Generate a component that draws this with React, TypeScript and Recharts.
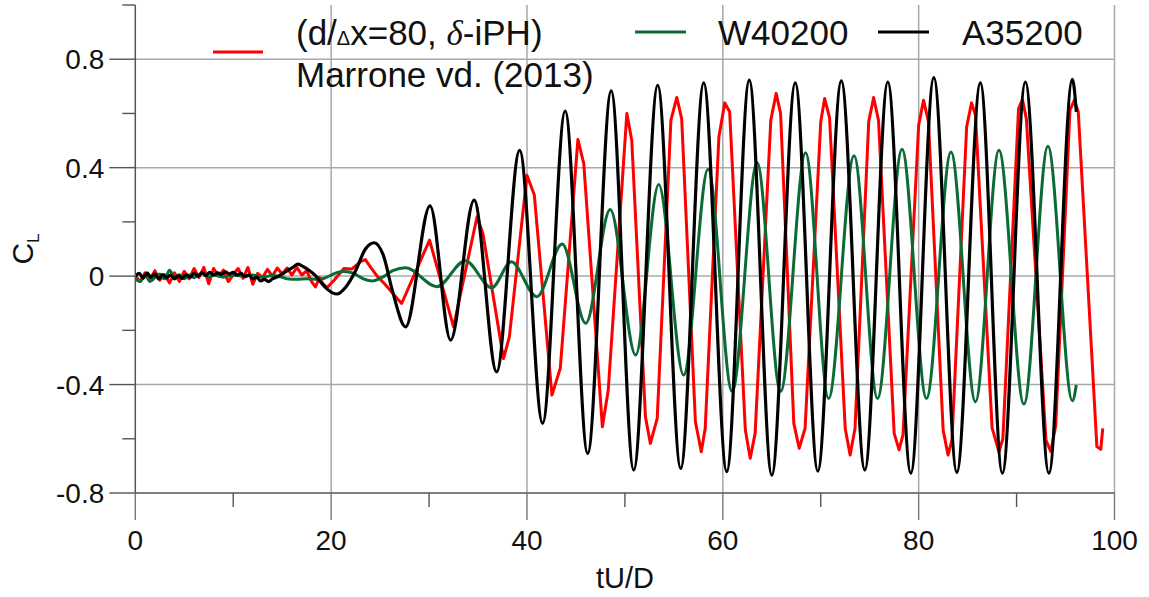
import React from 'react';
import { LineChart, Line, XAxis, YAxis, CartesianGrid } from 'recharts';

// ---------- data ----------
type P = { x: number; y: number };
const mk = (a: number[][]): P[] => a.map(([x, y]) => ({ x, y }));

const RED_POINTS: number[][] = [
  [0, 0], [0.5, -0.02], [1, 0.012], [1.5, -0.012], [2, 0.02], [2.5, -0.015], [3, 0.005], [3.5, -0.025],
  [4, 0.012], [4.5, -0.02], [5, 0.018], [5.5, -0.01], [6, 0.028], [6.5, -0.005], [7, 0.032], [7.5, -0.028],
  [8, 0.028], [8.5, 0], [9, 0.022], [9.5, -0.02], [10, 0.005], [10.5, 0.028], [11, -0.008], [11.5, 0.032],
  [12, -0.03], [12.5, 0.01], [13, -0.005], [13.5, 0.025], [14, 0], [14.5, 0.03], [15, 0.008], [15.5, 0.03],
  [16, 0.004], [16.5, 0.032], [17, 0.004], [17.5, 0.02], [18, -0.02], [18.4, -0.04], [18.8, -0.005],
  [19.2, -0.03], [19.6, -0.042], [20.3, -0.015], [21.3, 0.028], [22.1, 0.026], [23, 0.053], [23.5, 0.061],
  [24, 0.034], [24.7, 0.0], [25.5, -0.03], [26.2, -0.06], [27.2, -0.101], [30.05, 0.133], [32.5, -0.187],
  [34.9, 0.219], [35.5, 0.157], [37.6, -0.304], [38.2, -0.224], [40.0, 0.372], [40.75, 0.299],
  [42.55, -0.439], [43.4, -0.34], [45.2, 0.504], [45.8, 0.415], [47.7, -0.556], [48.3, -0.42],
  [50.2, 0.6], [50.7, 0.501], [52.1, -0.52], [52.6, -0.617], [53.3, -0.525], [54.7, 0.575], [55.3, 0.659],
  [55.8, 0.58], [57.2, -0.537], [57.8, -0.648], [58.2, -0.562], [59.6, 0.514], [60.2, 0.639], [60.7, 0.606],
  [62.3, -0.568], [62.8, -0.672], [63.3, -0.58], [64.9, 0.575], [65.45, 0.674], [65.9, 0.6],
  [67.25, -0.543], [67.8, -0.635], [68.4, -0.562], [70.0, 0.569], [70.4, 0.655], [70.9, 0.585],
  [72.5, -0.562], [73.0, -0.66], [73.5, -0.562], [74.9, 0.57], [75.4, 0.659], [75.9, 0.575],
  [77.5, -0.58], [78.0, -0.641], [78.4, -0.586], [80.0, 0.557], [80.5, 0.649], [81.0, 0.57],
  [82.5, -0.568], [83.0, -0.66], [83.4, -0.605], [84.9, 0.55], [85.4, 0.639], [85.8, 0.594],
  [87.5, -0.56], [88.2, -0.648], [88.6, -0.6], [90.2, 0.618], [90.6, 0.651], [91.0, 0.58],
  [93.0, -0.605], [93.5, -0.648], [94.0, -0.55], [95.45, 0.612], [95.9, 0.649], [96.3, 0.606],
  [98.2, -0.629], [98.6, -0.639], [98.8, -0.562],
];

const GREEN_POINTS: number[][] = [
  [0, -0.01], [0.5, -0.02], [1, 0.005], [1.5, -0.02], [2, -0.005], [2.5, 0.008], [3, -0.01], [3.5, 0.022],
  [4, -0.005], [4.5, 0.005], [5, -0.01], [5.5, 0.004], [6, -0.006], [6.5, 0.006], [7, 0.012], [7.5, -0.004],
  [8, 0.004], [9, -0.004], [10, 0.004], [11, 0], [12, 0.004], [13, -0.004], [14, 0.002], [15, -0.004],
  [15.5, -0.01], [16.5, -0.012], [17.5, -0.01], [18.5, -0.012], [19.3, -0.008], [20.5, 0.012],
  [21.3, 0.017], [22.3, 0.01], [23.3, -0.01], [24.2, -0.018], [25.2, -0.005], [26.3, 0.02],
  [27.6, 0.031], [30.8, -0.039], [33.7, 0.057], [36.4, -0.043], [38.4, 0.053], [41.0, -0.076],
  [43.6, 0.118], [46.0, -0.174], [48.5, 0.246], [51.1, -0.291], [53.45, 0.338], [56.0, -0.365],
  [58.5, 0.394], [60.95, -0.426], [63.5, 0.418], [65.9, -0.426], [68.45, 0.455], [70.8, -0.451],
  [73.4, 0.444], [75.8, -0.451], [78.3, 0.468], [80.8, -0.451], [83.3, 0.458], [85.8, -0.463],
  [88.2, 0.464], [90.75, -0.472], [93.2, 0.479], [95.7, -0.46], [96.1, -0.402],
];

const BLACK_POINTS: number[][] = [
  [0, 0], [0.4, 0.01], [0.8, -0.008], [1.2, 0.012], [1.6, -0.004], [2, 0.008], [2.4, -0.01], [2.8, 0.006],
  [3.2, -0.006], [3.6, 0.004], [4, -0.01], [4.4, 0.002], [4.8, -0.008], [5.2, 0.006], [5.6, -0.004],
  [6, 0.01], [6.4, 0], [6.8, 0.012], [7.2, 0.002], [7.6, 0.014], [8, 0.004], [8.4, 0.012], [8.8, 0.006],
  [9.2, 0.016], [9.6, 0.008], [10, 0.014], [10.4, 0.004], [10.8, 0.01], [11.2, -0.002], [11.6, 0.004],
  [12, -0.01], [12.4, -0.004], [12.8, -0.018], [13.2, -0.012], [13.6, -0.02], [14, -0.01], [14.4, -0.004],
  [14.8, 0.004], [15.2, 0.012], [15.6, 0.022], [16, 0.03], [16.6, 0.044], [17.2, 0.034], [17.8, 0.02],
  [18.4, 0.002], [19, -0.025], [19.6, -0.048], [20.6, -0.066], [21.5, -0.04], [22.5, 0.02], [23.5, 0.1],
  [24.4, 0.123], [25.3, 0.08], [26.3, -0.06], [27.6, -0.187], [30.1, 0.259], [32.2, -0.236],
  [34.6, 0.28], [36.9, -0.353], [39.25, 0.464], [41.6, -0.543], [43.9, 0.609], [46.2, -0.654],
  [48.6, 0.683], [50.9, -0.715], [53.35, 0.704], [55.7, -0.709], [58.05, 0.713], [60.4, -0.721],
  [62.7, 0.723], [65.0, -0.734], [67.4, 0.713], [69.7, -0.719], [72.1, 0.72], [74.5, -0.715],
  [76.85, 0.716], [79.2, -0.727], [81.55, 0.732], [83.9, -0.724], [86.3, 0.713], [88.55, -0.727],
  [90.9, 0.716], [93.3, -0.727], [95.7, 0.726], [96.1, 0.606],
];

const X_TICKS = [0, 10, 20, 30, 40, 50, 60, 70, 80, 90, 100];
const X_LABELED = [0, 20, 40, 60, 80, 100];
const Y_TICKS = [-0.8, -0.6, -0.4, -0.2, 0, 0.2, 0.4, 0.6, 0.8, 1.0];
const Y_LABELED = [-0.8, -0.4, 0, 0.4, 0.8];
const Y_LABELS: Record<string, string> = { '-0.8': '-0.8', '-0.4': '-0.4', '0': '0', '0.4': '0.4', '0.8': '0.8' };

const SERIES = [
  { key: 'red', name: 'Marrone vd. (2013)', color: '#ff0000', width: 3, type: 'linear', data: mk(RED_POINTS) },
  { key: 'green', name: 'W40200', color: '#0b6b36', width: 3, type: 'monotone', data: mk(GREEN_POINTS) },
  { key: 'black', name: 'A35200', color: '#000000', width: 3.2, type: 'monotone', data: mk(BLACK_POINTS) },
];

const FONT = '"Liberation Sans", Arial, sans-serif';
const AXIS_COLOR = '#555';
const GRID_COLOR = '#a8a8a8';

const isMajor = (v: number, list: number[]) => list.some((m) => Math.abs(m - v) < 1e-6);

const XTick = (props: any) => {
  const { x, y, payload } = props;
  const major = isMajor(payload.value, X_LABELED);
  return (
    <g>
      <line x1={x} x2={x} y1={y} y2={y + (major ? 27 : 14)} stroke={major ? '#777' : AXIS_COLOR} strokeWidth={1.4} />
      {major && (
        <text x={x} y={y + 57} textAnchor="middle" fontFamily={FONT} fontSize={28} fill="#111">
          {String(payload.value)}
        </text>
      )}
    </g>
  );
};

const YTick = (props: any) => {
  const { x, y, payload } = props;
  const major = isMajor(payload.value, Y_LABELED);
  const key = String(Math.round(payload.value * 10) / 10);
  return (
    <g>
      <line x1={x - (major ? 26 : 13)} x2={x} y1={y} y2={y} stroke={AXIS_COLOR} strokeWidth={1.4} />
      {major && (
        <text x={x - 31} y={y + 10} textAnchor="end" fontFamily={FONT} fontSize={28} fill="#111">
          {Y_LABELS[key] ?? key}
        </text>
      )}
    </g>
  );
};

const YTitle = () => (
  <text
    x={33}
    y={249}
    transform="rotate(-90, 33, 249)"
    textAnchor="middle"
    fontFamily={FONT}
    fontSize={30}
    fill="#111"
  >
    C<tspan dy={6} fontSize={17}>L</tspan>
  </text>
);

const XTitle = () => (
  <text x={625} y={588} textAnchor="middle" fontFamily={FONT} fontSize={29} fill="#111">
    tU/D
  </text>
);

const Legend = () => (
  <svg width={1149} height={110} style={{ position: 'absolute', left: 0, top: 0, pointerEvents: 'none' }}>
    <line x1={213} x2={263} y1={52} y2={52} stroke={SERIES[0].color} strokeWidth={3} />
    <text x={296} y={45} fontFamily={FONT} fontSize={35} fill="#111">
      (d/<tspan fontSize={20}>Δ</tspan>x=80, <tspan fontFamily='"Liberation Serif", serif' fontStyle="italic">δ</tspan>-iPH)
    </text>
    <text x={296} y={87} fontFamily={FONT} fontSize={35} fill="#111">
      {SERIES[0].name}
    </text>
    <line x1={635} x2={686} y1={32} y2={32} stroke={SERIES[1].color} strokeWidth={3} />
    <text x={718} y={45} fontFamily={FONT} fontSize={35} fill="#111">
      {SERIES[1].name}
    </text>
    <line x1={878} x2={929} y1={32} y2={32} stroke={SERIES[2].color} strokeWidth={3} />
    <text x={962} y={45} fontFamily={FONT} fontSize={35} fill="#111">
      {SERIES[2].name}
    </text>
  </svg>
);

export default function App() {
  return (
    <div style={{ position: 'absolute', left: 0, top: 0, width: 1149, height: 597, background: '#fff' }}>
      <LineChart width={1149} height={597} margin={{ top: 5, right: 34.5, bottom: 4, left: 5 }}>
        <CartesianGrid
          stroke={GRID_COLOR}
          strokeWidth={1.5}
          horizontalValues={[-0.4, 0, 0.4, 0.8]}
          verticalValues={[20, 40, 60, 80, 100]}
        />
        <XAxis
          type="number"
          dataKey="x"
          domain={[0, 100]}
          ticks={X_TICKS}
          interval={0}
          tickSize={0}
          tickMargin={0}
          tick={<XTick />}
          height={100}
          axisLine={{ stroke: AXIS_COLOR, strokeWidth: 1.5 }}
          allowDataOverflow
          label={<XTitle />}
        />
        <YAxis
          type="number"
          dataKey="y"
          domain={[-0.8, 1.0]}
          ticks={Y_TICKS}
          interval={0}
          tickSize={0}
          tickMargin={0}
          tick={<YTick />}
          width={130.3}
          axisLine={{ stroke: AXIS_COLOR, strokeWidth: 1.5 }}
          allowDataOverflow
          label={<YTitle />}
        />
        {SERIES.map((s) => (
          <Line
            key={s.key}
            data={s.data}
            dataKey="y"
            name={s.name}
            type={s.type as any}
            stroke={s.color}
            strokeWidth={s.width}
            dot={false}
            activeDot={false}
            isAnimationActive={false}
            strokeLinejoin="round"
          />
        ))}
      </LineChart>
      <Legend />
    </div>
  );
}
